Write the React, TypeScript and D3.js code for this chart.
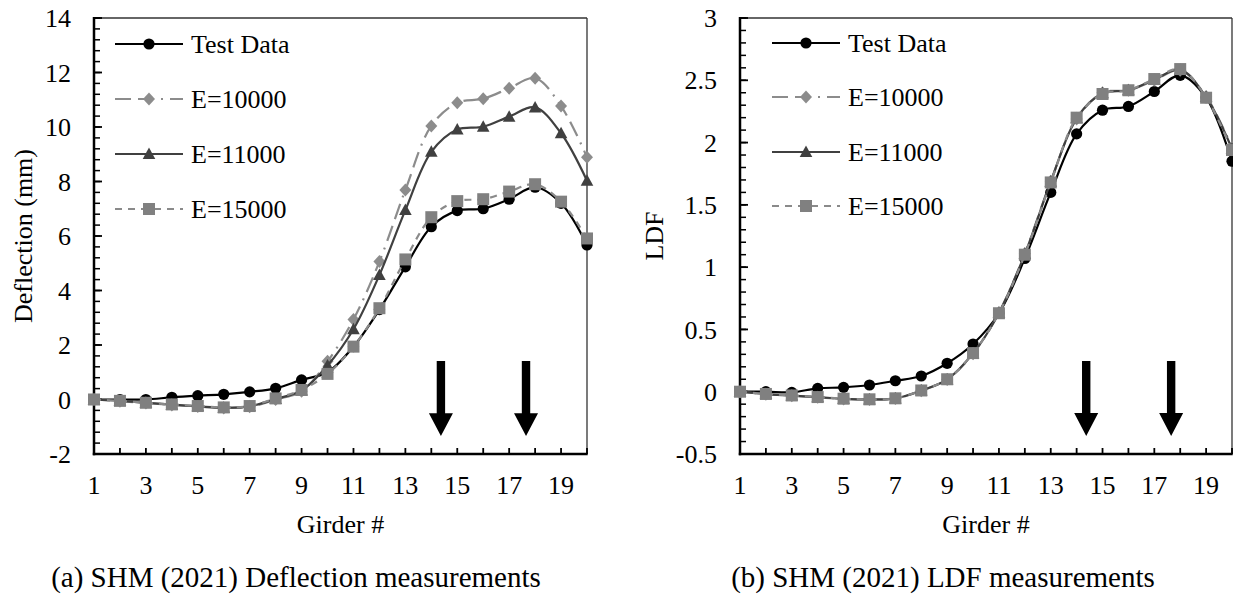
import React from "react";
import * as d3 from "d3";

const girders = [1, 2, 3, 4, 5, 6, 7, 8, 9, 10, 11, 12, 13, 14, 15, 16, 17, 18, 19, 20];
const xTickLabels = [1, 3, 5, 7, 9, 11, 13, 15, 17, 19];
const seriesNames = ["Test Data", "E=10000", "E=11000", "E=15000"];

const defTest = [0, 0, 0, 0.08, 0.14, 0.19, 0.28, 0.41, 0.72, 1.0, 1.94, 3.3, 4.87, 6.34, 6.93, 7.0, 7.35, 7.79, 7.2, 5.67];
const def10000 = [0, -0.06, -0.13, -0.2, -0.26, -0.31, -0.27, 0.0, 0.3, 1.4, 2.94, 5.06, 7.69, 10.04, 10.89, 11.04, 11.42, 11.79, 10.77, 8.89];
const def11000 = [0, -0.05, -0.12, -0.19, -0.25, -0.3, -0.25, 0.02, 0.33, 1.25, 2.58, 4.57, 6.95, 9.09, 9.91, 10.01, 10.38, 10.72, 9.77, 8.03];
const def15000 = [0, -0.05, -0.12, -0.18, -0.24, -0.29, -0.24, 0.04, 0.35, 0.94, 1.94, 3.35, 5.14, 6.69, 7.28, 7.35, 7.63, 7.9, 7.26, 5.91];

const ldfTest = [0, 0, -0.005, 0.027, 0.035, 0.054, 0.088, 0.126, 0.228, 0.383, 0.63, 1.07, 1.6, 2.07, 2.26, 2.29, 2.41, 2.54, 2.36, 1.85];
const ldf10000 = [0, -0.02, -0.032, -0.045, -0.058, -0.063, -0.055, 0.008, 0.098, 0.305, 0.635, 1.11, 1.69, 2.19, 2.4, 2.42, 2.5, 2.58, 2.37, 1.96];
const ldf11000 = [0, -0.019, -0.031, -0.044, -0.057, -0.062, -0.054, 0.009, 0.099, 0.308, 0.632, 1.105, 1.685, 2.195, 2.395, 2.42, 2.505, 2.585, 2.365, 1.95];
const ldf15000 = [0, -0.018, -0.03, -0.043, -0.056, -0.061, -0.053, 0.01, 0.1, 0.31, 0.63, 1.1, 1.68, 2.2, 2.39, 2.42, 2.51, 2.59, 2.36, 1.94];

const defYTicks = [-2, 0, 2, 4, 6, 8, 10, 12, 14];
const ldfYTicks = [-0.5, 0, 0.5, 1, 1.5, 2, 2.5, 3];

// arrow positions (girder units) and extent (data units)
const arrowGirders = [14.37, 17.65];
const defArrow = { top: 1.41, head: -0.5, tip: -1.34 };
const ldfArrow = { top: 0.246, head: -0.171, tip: -0.356 };

const FONT =
  "'Liberation Serif', 'Times New Roman', Times, Tinos, 'Nimbus Roman', 'Nimbus Roman No9 L', FreeSerif, 'Noto Serif', 'DejaVu Serif', serif";

const styles = [
  { color: "#000000", fill: "#000000", dash: "none", marker: "circle" },
  { color: "#8c8c8c", fill: "#8c8c8c", dash: "16,7,16,7,2,7", marker: "diamond" },
  { color: "#404040", fill: "#404040", dash: "none", marker: "triangle" },
  { color: "#8a8a8a", fill: "#808080", dash: "7,6", marker: "square" },
];

function Marker({ type, x, y, fill }: { type: string; x: number; y: number; fill: string }) {
  if (type === "circle") return <circle cx={x} cy={y} r={5.6} fill={fill} />;
  if (type === "square") return <rect x={x - 6} y={y - 6} width={12} height={12} fill={fill} />;
  if (type === "diamond")
    return <path d={`M${x},${y - 6.5}L${x + 6},${y}L${x},${y + 6.5}L${x - 6},${y}Z`} fill={fill} />;
  return <path d={`M${x},${y - 6.5}L${x + 6.3},${y + 5}L${x - 6.3},${y + 5}Z`} fill={fill} />;
}

function Chart({
  left, right, yDomain, yTicks, minorStep, series, yLabel, yLabelX, legendX, legendRows, arrow, caption, captionX,
}: any) {
  const top = 18, bottom = 454;
  const x = d3.scaleLinear().domain([1, 20]).range([left, right]);
  const y = d3.scaleLinear().domain(yDomain).range([bottom, top]);
  const line = d3
    .line<number>()
    .x((_, i) => x(girders[i]))
    .y((d) => y(d))
    .curve(d3.curveCatmullRom.alpha(0.5));
  const minorTicks = d3.range(yDomain[0], yDomain[1] + 1e-9, minorStep);
  const lx1 = legendX, lx2 = legendX + 68, lxm = legendX + 34, ltx = legendX + 76;
  const ts = { fontFamily: FONT };
  return (
    <g style={ts}>
      {/* frame */}
      <line x1={left} x2={right} y1={top} y2={top} stroke="#333" strokeWidth={1.5} />
      <line x1={right} x2={right} y1={top} y2={bottom} stroke="#333" strokeWidth={1.3} />
      {/* minor y ticks */}
      {minorTicks.map((t: number, i: number) => (
        <line key={"m" + i} x1={left} x2={left + 6} y1={y(t)} y2={y(t)} stroke="#000" strokeWidth={1.5} />
      ))}
      {yTicks.map((t: number) => (
        <g key={"y" + t}>
          <line x1={left} x2={left + 8} y1={y(t)} y2={y(t)} stroke="#000" strokeWidth={1.8} />
          <text x={left - 23} y={y(t)} dy="0.35em" textAnchor="end" fontSize={26} style={ts}>
            {t}
          </text>
        </g>
      ))}
      {girders.map((g) => (
        <line key={"x" + g} x1={x(g)} x2={x(g)} y1={bottom} y2={bottom - 6} stroke="#000" strokeWidth={1.8} />
      ))}
      {xTickLabels.map((g) => (
        <text key={"xl" + g} x={x(g)} y={494} textAnchor="middle" fontSize={26} style={ts}>
          {g}
        </text>
      ))}
      <line x1={left} x2={left} y1={top - 1} y2={bottom + 1.2} stroke="#000" strokeWidth={2.5} />
      <line x1={left - 1.2} x2={right + 0.7} y1={bottom} y2={bottom} stroke="#000" strokeWidth={2.5} />
      <text x={(left + right) / 2} y={533} textAnchor="middle" fontSize={26} style={ts}>
        Girder #
      </text>
      <text
        transform={`translate(${yLabelX},${(top + bottom) / 2}) rotate(-90)`}
        dy="0.35em"
        textAnchor="middle"
        fontSize={26}
        style={ts}
      >
        {yLabel}
      </text>
      {/* series */}
      {series.map((s: number[], k: number) => (
        <g key={"s" + k}>
          <path d={line(s) || ""} fill="none" stroke={styles[k].color} strokeWidth={2.2} strokeDasharray={styles[k].dash} />
          {s.map((v, i) => (
            <Marker key={i} type={styles[k].marker} x={x(girders[i])} y={y(v)} fill={styles[k].fill} />
          ))}
        </g>
      ))}
      {/* legend */}
      {seriesNames.map((n, k) => (
        <g key={"l" + k}>
          <line x1={lx1} x2={lx2} y1={legendRows[k]} y2={legendRows[k]} stroke={styles[k].color} strokeWidth={2.2} strokeDasharray={styles[k].dash} />
          <Marker type={styles[k].marker} x={lxm} y={legendRows[k]} fill={styles[k].fill} />
          <text x={ltx} y={legendRows[k]} dy="0.35em" fontSize={26} style={ts}>
            {n}
          </text>
        </g>
      ))}
      {/* arrows */}
      {arrowGirders.map((g, i) => {
        const cx = x(g);
        const yt = y(arrow.top), yh = y(arrow.head), yp = y(arrow.tip);
        return (
          <path
            key={"a" + i}
            d={`M${cx - 4.2},${yt}L${cx + 4.2},${yt}L${cx + 4.2},${yh}L${cx + 12},${yh}L${cx},${yp}L${cx - 12},${yh}L${cx - 4.2},${yh}Z`}
            fill="#000"
          />
        );
      })}
      <text x={captionX} y={587} textAnchor="middle" fontSize={29} style={ts}>
        {caption}
      </text>
    </g>
  );
}

export default function App() {
  return (
    <svg width={1233} height={599} style={{ position: "absolute", left: 0, top: 0, background: "#fff" }}>
      <rect width={1233} height={599} fill="#fff" />
      <Chart
        left={94}
        right={587}
        yDomain={[-2, 14]}
        yTicks={defYTicks}
        minorStep={0.4}
        series={[defTest, def10000, def11000, def15000]}
        yLabel="Deflection (mm)"
        yLabelX={23}
        legendX={115}
        legendRows={[44, 99, 154, 209]}
        arrow={defArrow}
        caption="(a) SHM (2021) Deflection measurements"
        captionX={296}
      />
      <Chart
        left={740}
        right={1232}
        yDomain={[-0.5, 3]}
        yTicks={ldfYTicks}
        minorStep={0.1}
        series={[ldfTest, ldf10000, ldf11000, ldf15000]}
        yLabel="LDF"
        yLabelX={654}
        legendX={772}
        legendRows={[43, 97, 152, 206]}
        arrow={ldfArrow}
        caption="(b) SHM (2021) LDF measurements"
        captionX={943}
      />
    </svg>
  );
}
